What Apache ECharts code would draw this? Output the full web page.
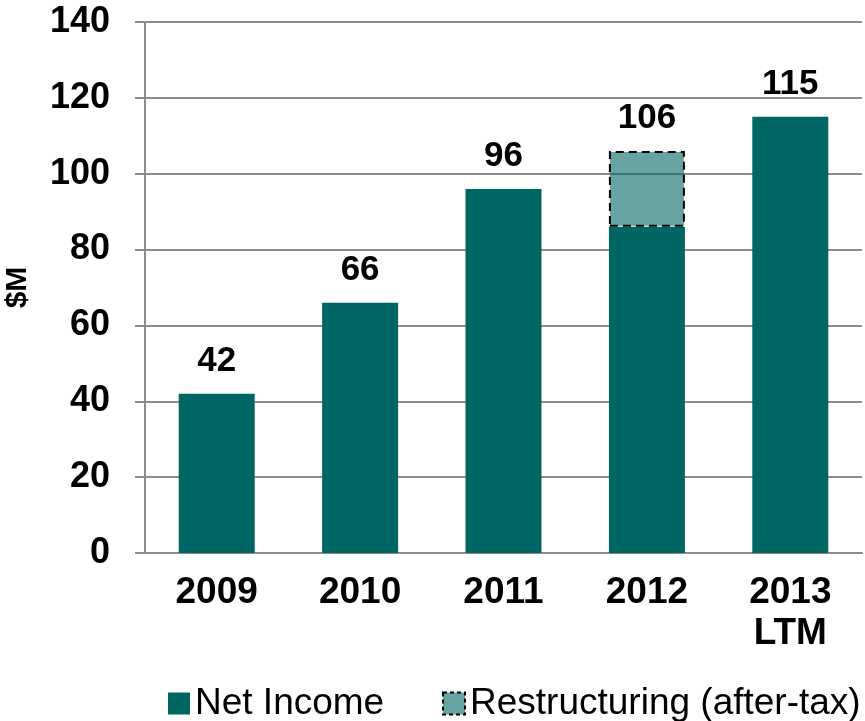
<!DOCTYPE html>
<html><head><meta charset="utf-8">
<script src="https://cdn.jsdelivr.net/npm/echarts@6/dist/echarts.min.js"></script>
<style>html,body{margin:0;padding:0;background:#fff}#c{width:865px;height:721px}</style>
</head><body><div id="c"></div>
<script>
const categories = ['2009', '2010', '2011', '2012', '2013\nLTM'];
const netIncome = [42, 66, 96, 86, 115];
const restructuring = [0, 0, 0, 20, 0];
const totals = [42, 66, 96, 106, 115];
const yTicks = [0, 20, 40, 60, 80, 100, 120, 140];
const seriesNames = ['Net Income', 'Restructuring (after-tax)'];

const chart = echarts.init(document.getElementById('c'));
const font = 'Liberation Sans, Arial, sans-serif';
const legendText = { fontFamily: font, fontSize: 37, color: '#000' };
chart.setOption({
  animation: false,
  grid: { left: 145, right: 3, top: 22, bottom: 168, containLabel: false, outerBoundsMode: 'none' },
  legend: [
    {
      top: 680, left: 163, itemWidth: 22, itemHeight: 22, icon: 'rect',
      textStyle: legendText, data: [seriesNames[0]]
    },
    {
      top: 680, left: 437, itemWidth: 22, itemHeight: 22, icon: 'rect', width: 430,
      textStyle: legendText,
      data: [{ name: seriesNames[1], itemStyle: { borderType: [4, 3], borderWidth: 2, borderColor: '#000' } }]
    }
  ],
  xAxis: {
    type: 'category', data: categories,
    axisLine: { lineStyle: { color: '#8c8c8c', width: 2 } },
    axisTick: { length: 10, lineStyle: { color: '#8c8c8c', width: 2 } },
    axisLabel: { fontFamily: font, fontWeight: 'bold', fontSize: 37, color: '#000', margin: 19, lineHeight: 41 }
  },
  yAxis: {
    type: 'value', min: 0, max: 140, interval: 20,
    name: '$M', nameLocation: 'middle', nameGap: 112, nameRotate: 90,
    nameTextStyle: { fontFamily: font, fontWeight: 'bold', fontSize: 30, color: '#000' },
    axisLine: { show: true, lineStyle: { color: '#8c8c8c', width: 2 } },
    axisTick: { show: true, length: 10, lineStyle: { color: '#8c8c8c', width: 2 } },
    splitLine: { lineStyle: { color: '#8c8c8c', width: 2 } },
    axisLabel: { fontFamily: font, fontWeight: 'bold', fontSize: 36, color: '#000', margin: 35,
      formatter: v => yTicks.includes(v) ? String(v) : '' }
  },
  series: [
    {
      name: seriesNames[0], type: 'bar', stack: 'a', barWidth: 76,
      data: netIncome,
      itemStyle: { color: '#006663' },
      label: {
        show: true, position: 'top', distance: 15,
        fontFamily: font, fontWeight: 'bold', fontSize: 35, color: '#000',
        formatter: p => restructuring[p.dataIndex] > 0 ? '' : String(totals[p.dataIndex])
      }
    },
    {
      name: seriesNames[1], type: 'bar', stack: 'a', barWidth: 76,
      data: restructuring.map(v => v > 0 ? v : '-'),
      itemStyle: { color: 'rgba(0,102,99,0.6)', borderColor: '#000', borderWidth: 2, borderType: [8, 5] },
      label: {
        show: true, position: 'top', distance: 15,
        fontFamily: font, fontWeight: 'bold', fontSize: 35, color: '#000',
        formatter: p => String(totals[p.dataIndex])
      }
    }
  ]
});
</script></body></html>
